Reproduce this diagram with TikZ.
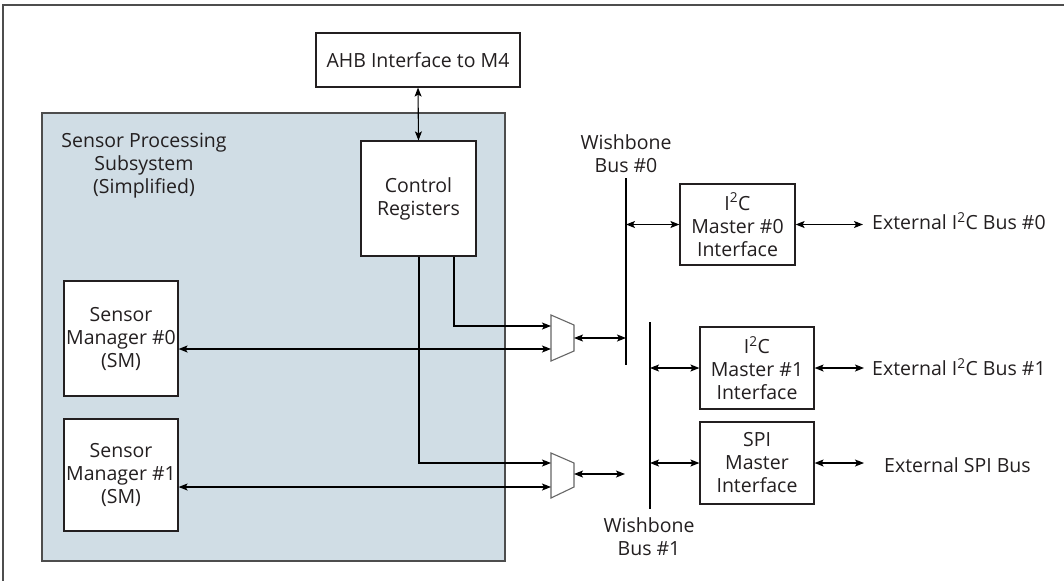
\documentclass[tikz,border=0pt]{standalone}
\usepackage{fontspec}
\setmainfont{Open Sans}
\usetikzlibrary{arrows.meta}
\definecolor{txt}{HTML}{231F20}
\definecolor{spsfill}{HTML}{D0DDE5}
\definecolor{edge}{HTML}{4D4D4D}
\tikzset{
  lbl/.style={font=\fontsize{19.5}{23}\selectfont, text=txt, align=center, inner sep=0pt},
  blk/.style={draw=txt, line width=1.2pt, fill=white, lbl},
  conn/.style={line width=1.1pt, draw=black, {Stealth[length=9pt,width=7pt,inset=2pt]}-{Stealth[length=9pt,width=7pt,inset=2pt]}},
  oneway/.style={line width=1.1pt, draw=black, -{Stealth[length=9pt,width=7pt,inset=2pt]}},
  busline/.style={line width=1.3pt, draw=black},
  muxshape/.style={line width=1.1pt, draw=gray!80!black, fill=white}
}
\begin{document}
\begin{tikzpicture}[x=1pt,y=-1pt]
\useasboundingbox (0,0) rectangle (1064,581);
% page frame
\draw[line width=1.5pt, draw=edge] (1064,5) -- (3,5) -- (3,581);

% subsystem enclosure
\draw[line width=1.3pt, draw=edge, fill=spsfill] (42,113) rectangle (505,561);
\node[lbl] (spstitle) at (144,166) {Sensor Processing\\Subsystem\\(Simplified)};

% blocks
\node[blk, minimum width=204pt, minimum height=54pt] (ahb) at (418,60) {AHB Interface to M4};
\node[blk, minimum width=115pt, minimum height=115pt] (ctrl) at (418.5,198.5) {Control\\Registers};
\node[blk, minimum width=114pt, minimum height=115pt] (sm0) at (121,338.5) {Sensor\\Manager \#0\\(SM)};
\node[blk, minimum width=114pt, minimum height=112pt] (sm1) at (121,475) {Sensor\\Manager \#1\\(SM)};
\node[blk, minimum width=115pt, minimum height=81pt] (i2c0) at (737.5,224.5) {I\textsuperscript{2}C\\Master \#0\\Interface};
\node[blk, minimum width=114pt, minimum height=82pt] (i2c1) at (757,368) {I\textsuperscript{2}C\\Master \#1\\Interface};
\node[blk, minimum width=114pt, minimum height=82pt] (spi) at (757,463) {SPI\\Master\\Interface};

% bus labels and external labels
\node[lbl] (wb0) at (626,154) {Wishbone\\Bus \#0};
\node[lbl] (wb1) at (649,537) {Wishbone\\Bus \#1};
\node[lbl, anchor=west] (ext0) at (872,221) {External I\textsuperscript{2}C Bus \#0};
\node[lbl, anchor=west] (ext1) at (872,367) {External I\textsuperscript{2}C Bus \#1};
\node[lbl, anchor=west] (ext2) at (884,465) {External SPI Bus};

% multiplexers
\draw[muxshape] (551,315) -- (574,325) -- (574,351) -- (551,361) -- cycle;
\draw[muxshape] (551,453) -- (574,463) -- (574,487) -- (551,498) -- cycle;
\coordinate (m0a) at (551,326);
\coordinate (m0b) at (551,349);
\coordinate (m0o) at (574,338);
\coordinate (m1a) at (551,463);
\coordinate (m1b) at (551,487);
\coordinate (m1o) at (574,474);

% wishbone buses
\coordinate (b0t) at (626,178);
\coordinate (b0b) at (626,365);
\coordinate (b1t) at (650,322);
\coordinate (b1b) at (650,509);
\draw[busline] (b0t) -- (b0b);
\draw[busline] (b1t) -- (b1b);

% connectors
\draw[conn] (ahb.south) -- (ctrl.north);
\draw[oneway] (ctrl.south -| 454,0) |- (m0a);
\draw[oneway] (ctrl.south -| 419,0) |- (m1a);
\draw[conn] (sm0.east |- m0b) -- (m0b);
\draw[conn] (sm1.east |- m1b) -- (m1b);
\draw[conn] (m0o) -- (b0t |- m0o);
\coordinate (m1end) at (625,474);
\draw[conn] (m1o) -- (m1end);
\draw[conn] (b0t |- i2c0.west) -- (i2c0.west);
\draw[conn] (b1t |- i2c1.west) -- (i2c1.west);
\draw[conn] (b1t |- spi.west) -- (spi.west);
\coordinate (e0) at (863,224.5);
\coordinate (e1) at (864,368);
\coordinate (e2) at (864,463);
\draw[conn] (i2c0.east) -- (e0);
\draw[conn] (i2c1.east) -- (e1);
\draw[conn] (spi.east) -- (e2);
\end{tikzpicture}
\end{document}
